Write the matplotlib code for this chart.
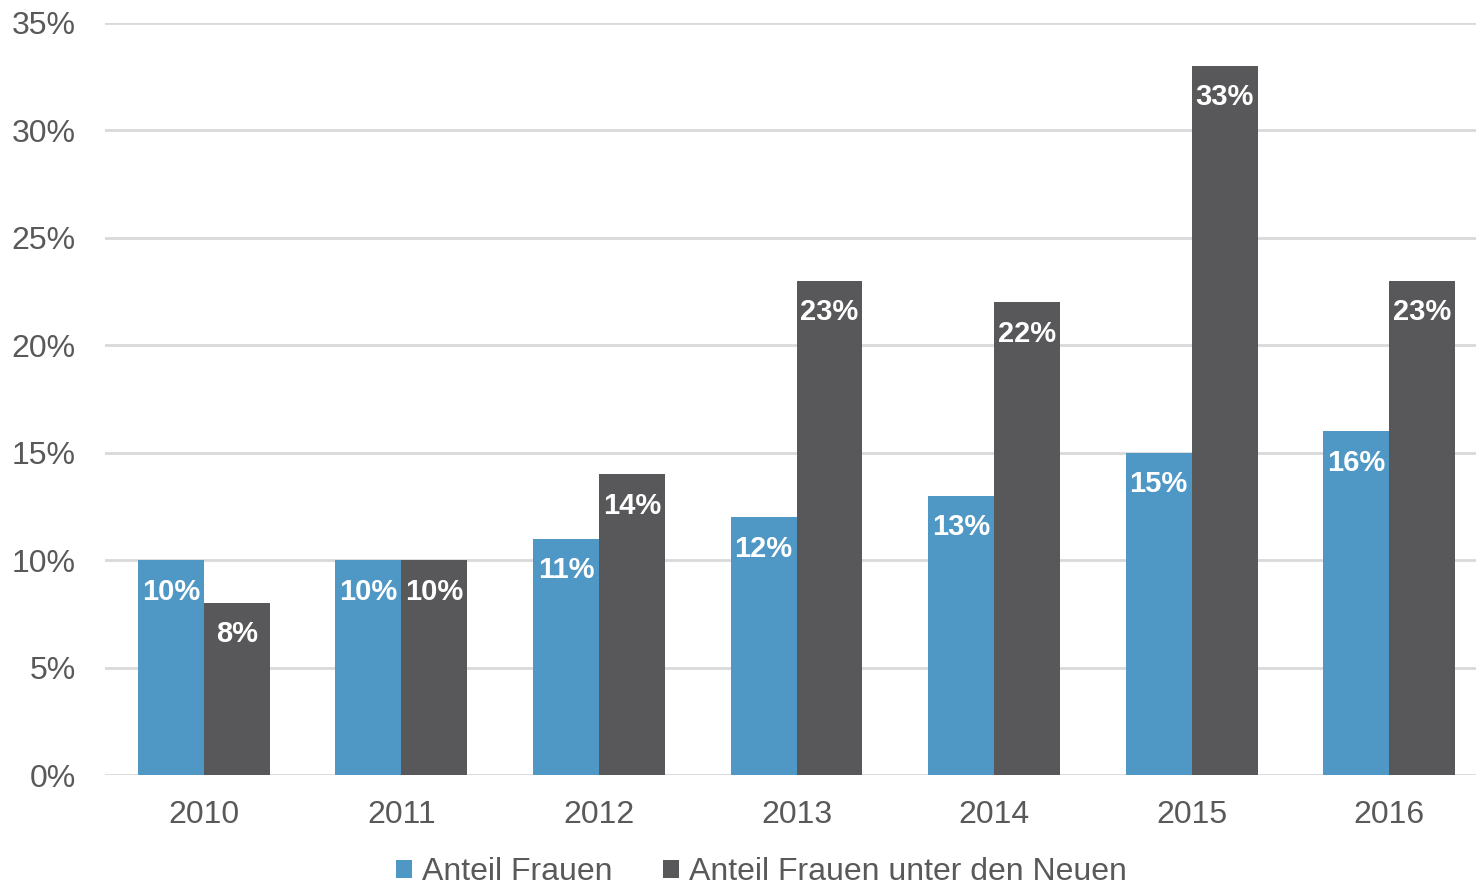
import matplotlib.pyplot as plt
import numpy as np

plt.rcParams['font.family'] = ['Liberation Sans', 'DejaVu Sans']

years = ['2010', '2011', '2012', '2013', '2014', '2015', '2016']
frauen = [10, 10, 11, 12, 13, 15, 16]
neue = [8, 10, 14, 23, 22, 33, 23]
yticks = [0, 5, 10, 15, 20, 25, 30, 35]

blue = '#4F97C4'
grey = '#58585A'
txt = '#595959'

fig = plt.figure(figsize=(14.76, 8.9), dpi=100)
ax = fig.add_axes([105/1476, 0.1292, 1383/1476, 0.845])

x = np.arange(len(years))
w = 0.334
b1 = ax.bar(x - w/2, frauen, w, color=blue, label='Anteil Frauen', zorder=2)
b2 = ax.bar(x + w/2, neue, w, color=grey, label='Anteil Frauen unter den Neuen', zorder=2)

for bars, vals in [(b1, frauen), (b2, neue)]:
    for r, v in zip(bars, vals):
        ax.annotate(f'{v}%', (r.get_x() + r.get_width()/2, v), xytext=(0, -12.5),
                    textcoords='offset points', ha='center', va='top',
                    color='white', fontsize=21, fontweight='bold', zorder=3)

ax.set_xlim(-0.5, 6.5)
ax.set_ylim(0, 35)
ax.set_yticks(yticks)
ax.set_yticklabels([f'{t}%' for t in yticks])
ax.set_xticks(x)
ax.set_xticklabels(years)
ax.tick_params(length=0, labelsize=23, colors=txt)
ax.tick_params(axis='y', pad=21)
ax.tick_params(axis='x', pad=18)
ax.grid(axis='y', color='#D9D9D9', linewidth=2, zorder=0)
for s in ax.spines.values():
    s.set_visible(False)

fig.legend(loc='lower center', bbox_to_anchor=(0.516, -0.029), ncol=2, frameon=False,
           fontsize=23, labelcolor=txt, handlelength=0.5, handleheight=0.5,
           handletextpad=0.3, columnspacing=1.6)

fig.savefig('out.png', dpi=100)
